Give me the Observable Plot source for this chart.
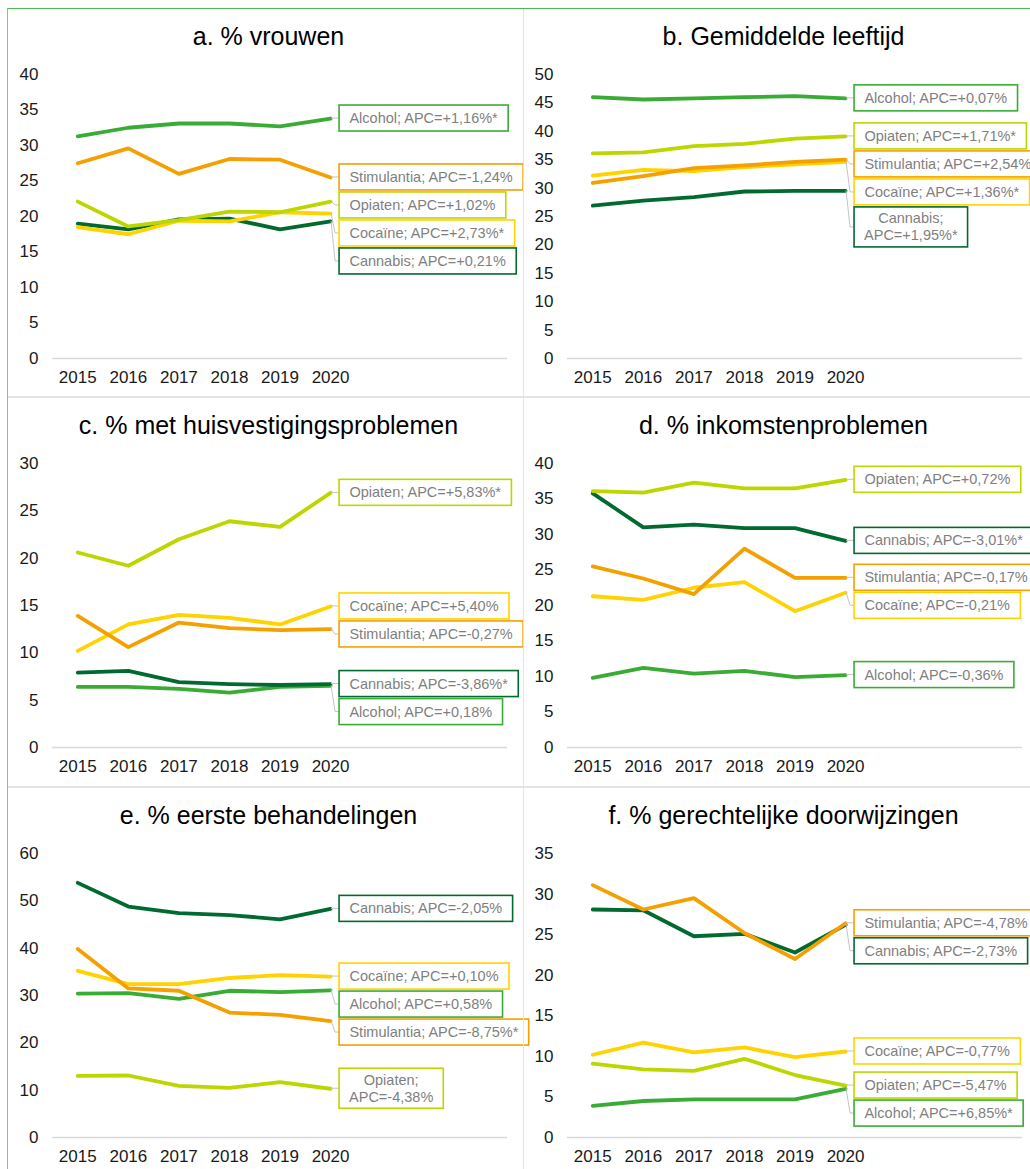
<!DOCTYPE html>
<html>
<head>
<meta charset="utf-8">
<script src="https://cdn.jsdelivr.net/npm/d3@7"></script>
<script src="https://cdn.jsdelivr.net/npm/@observablehq/plot@0.6"></script>
<style>
  html, body { margin: 0; padding: 0; background: #fff; }
  #wrap { position: relative; width: 1030px; height: 1169px; overflow: hidden; font-family: "Liberation Sans", Arial, sans-serif; background: #fff; }
  .panel { position: absolute; width: 515px; height: 390px; }
  .panel svg { overflow: visible; position: absolute; left: 0; top: 0; }
  .title { position: absolute; top: 24px; left: 0; width: 537px; text-align: center; font-size: 25px; line-height: 25px; color: #000; white-space: nowrap; }
  .line { position: absolute; }
</style>
</head>
<body>
<div id="wrap"></div>
<script>
// ---------- data ----------
const years = [2015, 2016, 2017, 2018, 2019, 2020];
const substances = ["Alcohol", "Cannabis", "Cocaïne", "Opiaten", "Stimulantia"];
const colors = ["#3aac36", "#006a30", "#ffd300", "#bdd600", "#f4a000"];

const titles = [
  "a. % vrouwen",
  "b. Gemiddelde leeftijd",
  "c. % met huisvestigingsproblemen",
  "d. % inkomstenproblemen",
  "e. % eerste behandelingen",
  "f. % gerechtelijke doorwijzingen"
];
const yMax = [40, 50, 30, 40, 60, 35];
const yStep = [5, 5, 5, 5, 10, 5];

// rows: Alcohol, Cannabis, Cocaïne, Opiaten, Stimulantia
const vrouwen = [
  [31.3, 32.5, 33.1, 33.1, 32.7, 33.8],
  [19.0, 18.2, 19.6, 19.7, 18.2, 19.3],
  [18.5, 17.5, 19.4, 19.3, 20.6, 20.4],
  [22.1, 18.6, 19.5, 20.7, 20.6, 22.1],
  [27.5, 29.6, 26.0, 28.1, 28.0, 25.5]
];
const leeftijd = [
  [46.0, 45.6, 45.8, 46.0, 46.2, 45.8],
  [26.9, 27.8, 28.4, 29.4, 29.5, 29.5],
  [32.2, 33.2, 33.0, 33.7, 34.2, 34.6],
  [36.1, 36.3, 37.4, 37.8, 38.7, 39.1],
  [30.9, 32.1, 33.5, 34.0, 34.6, 35.0]
];
const huisvesting = [
  [6.4, 6.4, 6.2, 5.8, 6.4, 6.5],
  [7.9, 8.1, 6.9, 6.7, 6.6, 6.7],
  [10.2, 13.0, 14.0, 13.7, 13.0, 14.9],
  [20.6, 19.2, 22.0, 23.9, 23.3, 26.9],
  [13.9, 10.6, 13.2, 12.6, 12.4, 12.5]
];
const inkomsten = [
  [9.8, 11.2, 10.4, 10.8, 9.9, 10.2],
  [35.8, 31.0, 31.4, 30.9, 30.9, 29.1],
  [21.3, 20.8, 22.5, 23.3, 19.2, 21.8],
  [36.1, 35.9, 37.3, 36.5, 36.5, 37.7],
  [25.5, 23.8, 21.6, 28.0, 23.9, 23.9]
];
const eersteBehandeling = [
  [30.4, 30.5, 29.3, 31.0, 30.7, 31.1],
  [53.8, 48.8, 47.4, 47.0, 46.1, 48.3],
  [35.2, 32.4, 32.4, 33.7, 34.3, 34.0],
  [13.0, 13.1, 10.9, 10.5, 11.7, 10.3],
  [39.8, 31.5, 31.0, 26.4, 25.9, 24.6]
];
const gerechtelijk = [
  [3.9, 4.5, 4.7, 4.7, 4.7, 6.0],
  [28.1, 28.0, 24.8, 25.1, 22.8, 26.2],
  [10.2, 11.7, 10.5, 11.1, 9.9, 10.6],
  [9.1, 8.4, 8.2, 9.7, 7.7, 6.4],
  [31.1, 28.1, 29.5, 25.2, 22.0, 26.4]
];

const apcVrouwen = ["+1,16%*", "+0,21%", "+2,73%*", "+1,02%", "-1,24%"];
const apcLeeftijd = ["+0,07%", "+1,95%*", "+1,36%*", "+1,71%*", "+2,54%*"];
const apcHuisvesting = ["+0,18%", "-3,86%*", "+5,40%", "+5,83%*", "-0,27%"];
const apcInkomsten = ["-0,36%", "-3,01%*", "-0,21%", "+0,72%", "-0,17%"];
const apcEerste = ["+0,58%", "-2,05%", "+0,10%", "-4,38%", "-8,75%*"];
const apcGerechtelijk = ["+6,85%*", "-2,73%", "-0,77%", "-5,47%", "-4,78%"];

// labels that wrap onto two lines: [panel index, substance]
const wrappedLabels = [[1, "Cannabis"], [4, "Opiaten"]];

const panelValues = [vrouwen, leeftijd, huisvesting, inkomsten, eersteBehandeling, gerechtelijk];
const panelApc = [apcVrouwen, apcLeeftijd, apcHuisvesting, apcInkomsten, apcEerste, apcGerechtelijk];

// ---------- drawing ----------
const FONT = '"Liberation Sans", Arial, sans-serif';
const LABEL_FS = 14.5;
const measureCtx = document.createElement("canvas").getContext("2d");
measureCtx.font = `${LABEL_FS}px ${FONT}`;

function labelLayer(pi, values, apc) {
  return (index, scales) => {
    const sx = scales.x, sy = scales.y;
    const g = d3.create("svg:g");
    const items = substances.map((s, i) => {
      const last = values[i][values[i].length - 1];
      const wrap = wrappedLabels.some(([p, n]) => p === pi && n === s);
      const lines = wrap ? [s + ";", "APC=" + apc[i]] : [s + "; APC=" + apc[i]];
      return {s, i, ex: sx(years[years.length - 1]), ey: sy(last), lines, h: wrap ? 40 : 26};
    }).sort((a, b) => a.ey - b.ey);
    let prevBottom = -Infinity;
    for (const it of items) {
      const top = Math.max(it.ey - it.h / 2, prevBottom + 2);
      it.cy = top + it.h / 2;
      prevBottom = top + it.h;
    }
    for (const it of items) {
      const tw = d3.max(it.lines, l => measureCtx.measureText(l).width);
      const bw = tw + 20;
      const bx = it.ex + 9;
      g.append("path")
        .attr("d", `M${it.ex + 1},${it.ey}L${it.ex + 5},${it.cy}L${bx},${it.cy}`)
        .attr("fill", "none").attr("stroke", "#c4c4c4").attr("stroke-width", 1);
      g.append("rect")
        .attr("x", bx).attr("y", it.cy - it.h / 2)
        .attr("width", bw).attr("height", it.h)
        .attr("fill", "#fff").attr("stroke", colors[it.i]).attr("stroke-width", 1.6);
      const t = g.append("text")
        .attr("x", bx + bw / 2)
        .attr("text-anchor", "middle")
        .attr("font-size", LABEL_FS)
        .attr("font-family", FONT)
        .attr("fill", "#7f7f7f");
      it.lines.forEach((l, k) => {
        const off = (k - (it.lines.length - 1) / 2) * 17;
        t.append("tspan").attr("x", bx + bw / 2).attr("y", it.cy + off).attr("dy", "0.35em").text(l);
      });
    }
    return g.node();
  };
}

const wrap = document.getElementById("wrap");

panelValues.forEach((values, pi) => {
  const col = pi % 2, row = Math.floor(pi / 2);
  const panel = document.createElement("div");
  panel.className = "panel";
  panel.style.left = (col * 515) + "px";
  panel.style.top = (row * 389 + (row === 2 ? 1 : 0)) + "px";
  wrap.appendChild(panel);

  const rows = [];
  substances.forEach((s, i) => years.forEach((y, j) => rows.push({substance: s, year: y, value: values[i][j]})));

  const chart = Plot.plot({
    width: 515,
    height: 389,
    marginTop: 74,
    marginBottom: 31,
    marginLeft: 52,
    marginRight: 8,
    style: {fontSize: "17px", fontFamily: FONT, color: "#1a1a1a", background: "transparent", overflow: "visible"},
    x: {domain: [2014.5, 2023.5], ticks: years, tickFormat: d => String(d), tickSize: 0, tickPadding: 12, label: null},
    y: {domain: [0, yMax[pi]], ticks: d3.range(0, yMax[pi] + 0.001, yStep[pi]), tickSize: 0, tickPadding: 14, label: null},
    color: {domain: substances, range: colors},
    marks: [
      Plot.ruleY([0], {stroke: "#d9d9d9", strokeWidth: 1.5}),
      Plot.line(rows, {x: "year", y: "value", z: "substance", stroke: "substance", strokeWidth: 3.8, strokeLinejoin: "round", strokeLinecap: "round"}),
      labelLayer(pi, values, panelApc[pi])
    ]
  });
  panel.appendChild(chart);

  const title = document.createElement("div");
  title.className = "title";
  title.textContent = titles[pi];
  panel.appendChild(title);
});

// frame lines (outer border + panel dividers)
function addLine(css) {
  const d = document.createElement("div");
  d.className = "line";
  Object.assign(d.style, css);
  wrap.appendChild(d);
}
addLine({left: "7px", top: "8px", width: "1030px", height: "1px", background: "#4cbb4c"});
addLine({left: "7px", top: "8px", width: "1px", height: "1169px", background: "#7ccc7c"});
addLine({left: "522.5px", top: "9px", width: "1.5px", height: "1169px", background: "#e4e4e4"});
addLine({left: "8px", top: "396px", width: "1030px", height: "1.5px", background: "#e4e4e4"});
addLine({left: "8px", top: "786px", width: "1030px", height: "1.5px", background: "#e4e4e4"});
</script>
</body>
</html>
